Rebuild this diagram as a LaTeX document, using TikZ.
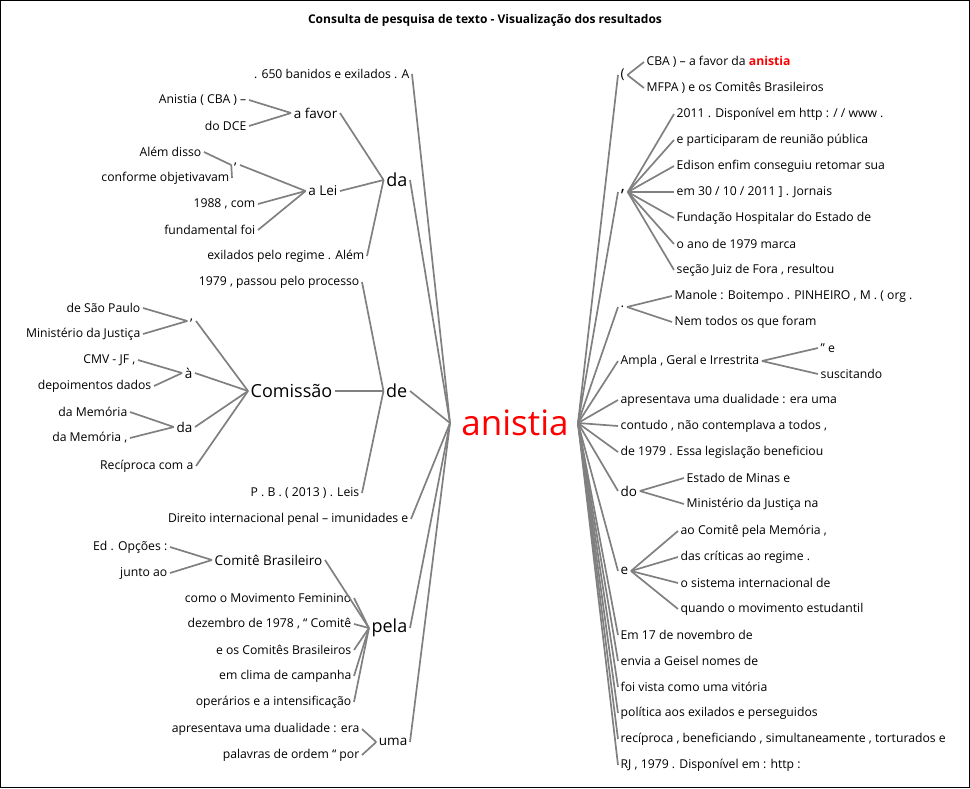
\documentclass[tikz,border=0pt]{standalone}
\usepackage{fontspec}
\usetikzlibrary{calc}
\setmainfont{Open Sans}
\begin{document}
\begin{tikzpicture}[x=1pt,y=-1pt,
 lf/.style={inner sep=2.5pt,font=\fontsize{12.2}{14}\selectfont},
 md/.style={inner sep=2.5pt,font=\fontsize{13.5}{15}\selectfont},
 bg/.style={inner sep=2.5pt,font=\fontsize{18}{20}\selectfont},
 conn/.style={draw=black!50,line width=1.7pt},
 hc/.style={to path={.. controls ($(\tikztostart)!0.5!(\tikztotarget)$ |- \tikztostart) and ($(\tikztostart)!0.5!(\tikztotarget)$ |- \tikztotarget) .. (\tikztotarget)}}]
\useasboundingbox (0,0) rectangle (970,788);
\draw[black,line width=1pt] (0.5,0.5) rectangle (969.5,787.5);
\node[font=\bfseries\fontsize{12}{14}\selectfont] (title) at (485,20) {Consulta de pesquisa de texto - Visualização dos resultados};
\node[text=red,inner sep=0pt,font=\fontsize{35}{38}\selectfont] (root) at (515,423) {anistia};
\coordinate (rl) at (450,423);
\coordinate (rr) at (578,423);
% ---------- LEFT ----------
\newcommand\Lnode[5][lf]{\node[#1,anchor=east] (#2) at (#3,#4) {#5};}
\Lnode{l650}{412}{74}{. 650 banidos e exilados . A}
\Lnode[bg]{da}{410}{180}{da}
\Lnode[md]{afavor}{340}{113}{a favor}
\Lnode{anicba}{249}{100}{Anistia ( CBA ) –}
\Lnode{dce}{249}{126}{do DCE}
\Lnode[md]{alei}{340}{191}{a Lei}
\Lnode[md]{vg1}{240}{165}{,}
\Lnode{alem}{204}{152}{Além disso}
\Lnode{confo}{232}{178}{conforme objetivavam}
\Lnode{m1988}{258}{204}{1988 , com}
\Lnode{fund}{258}{230}{fundamental foi}
\Lnode{exil}{367}{256}{exilados pelo regime . Além}
\Lnode[bg]{de}{410}{391}{de}
\Lnode{passou}{362}{282}{1979 , passou pelo processo}
\Lnode{pb}{362}{493}{P . B . ( 2013 ) . Leis}
\Lnode[bg]{comis}{335}{391}{Comissão}
\Lnode[md]{vg2}{196}{321}{,}
\Lnode{saop}{143}{308}{de São Paulo}
\Lnode{minj}{143}{334}{Ministério da Justiça}
\Lnode[md]{aa}{195}{373}{à}
\Lnode{cmv}{138}{360}{CMV - JF ,}
\Lnode{depo}{154}{386}{depoimentos dados}
\Lnode[md]{da2}{195}{427}{da}
\Lnode{mem1}{130}{412}{da Memória}
\Lnode{mem2}{130}{438}{da Memória ,}
\Lnode{recip}{196}{466}{Recíproca com a}
\Lnode{direito}{411}{519}{Direito internacional penal – imunidades e}
\Lnode[bg]{pela}{410}{628}{pela}
\Lnode[md]{cb}{325}{560}{Comitê Brasileiro}
\Lnode{ed}{170}{547}{Ed . Opções :}
\Lnode{junto}{170}{573}{junto ao}
\Lnode{p1}{354}{598}{como o Movimento Feminino}
\Lnode{p2}{354}{624}{dezembro de 1978 , “ Comitê}
\Lnode{p3}{354}{650}{e os Comitês Brasileiros}
\Lnode{p4}{354}{676}{em clima de campanha}
\Lnode{p5}{354}{702}{operários e a intensificação}
\Lnode[md]{uma}{410}{742}{uma}
\Lnode{u1}{362}{729}{apresentava uma dualidade : era}
\Lnode{u2}{362}{755}{palavras de ordem “ por}
\foreach \c in {l650,da,de,direito,pela,uma}{\draw[conn] (\c.east) to[hc] (rl);}
\foreach \c/\p in {afavor/da,alei/da,exil/da,anicba/afavor,dce/afavor,vg1/alei,m1988/alei,fund/alei,alem/vg1,confo/vg1,
 passou/de,comis/de,pb/de,vg2/comis,aa/comis,da2/comis,recip/comis,saop/vg2,minj/vg2,cmv/aa,depo/aa,mem1/da2,mem2/da2,
 cb/pela,p1/pela,p2/pela,p3/pela,p4/pela,p5/pela,ed/cb,junto/cb,u1/uma,u2/uma}
 {\draw[conn] (\c.east) to[hc] (\p.west);}
% ---------- RIGHT ----------
\newcommand\Rnode[5][lf]{\node[#1,anchor=west] (#2) at (#3,#4) {#5};}
\Rnode[md]{par}{618}{75}{(}
\Rnode{r1}{644}{62}{CBA ) – a favor da \textcolor{red}{\bfseries anistia}}
\Rnode{r2}{644}{88}{MFPA ) e os Comitês Brasileiros}
\Rnode[bg]{vg3}{618}{192}{,}
\Rnode{c1}{674}{114}{2011 . Disponível em http : / / www .}
\Rnode{c2}{674}{140}{e participaram de reunião pública}
\Rnode{c3}{674}{166}{Edison enfim conseguiu retomar sua}
\Rnode{c4}{674}{192}{em 30 / 10 / 2011 ] . Jornais}
\Rnode{c5}{674}{218}{Fundação Hospitalar do Estado de}
\Rnode{c6}{674}{244}{o ano de 1979 marca}
\Rnode{c7}{674}{270}{seção Juiz de Fora , resultou}
\Rnode[md]{pt}{618}{307}{.}
\Rnode{d1}{672}{296}{Manole : Boitempo . PINHEIRO , M . ( org .}
\Rnode{d2}{672}{322}{Nem todos os que foram}
\Rnode{ampla}{618}{361}{Ampla , Geral e Irrestrita}
\Rnode{a1}{818}{348}{” e}
\Rnode{a2}{818}{374}{suscitando}
\Rnode{s1}{618}{400}{apresentava uma dualidade : era uma}
\Rnode{s2}{618}{426}{contudo , não contemplava a todos ,}
\Rnode{s3}{618}{452}{de 1979 . Essa legislação beneficiou}
\Rnode[md]{do}{618}{491}{do}
\Rnode{o1}{684}{478}{Estado de Minas e}
\Rnode{o2}{684}{504}{Ministério da Justiça na}
\Rnode[md]{ee}{618}{571}{e}
\Rnode{e1}{678}{531}{ao Comitê pela Memória ,}
\Rnode{e2}{678}{557}{das críticas ao regime .}
\Rnode{e3}{678}{583}{o sistema internacional de}
\Rnode{e4}{678}{609}{quando o movimento estudantil}
\Rnode{t1}{618}{635}{Em 17 de novembro de}
\Rnode{t2}{618}{661}{envia a Geisel nomes de}
\Rnode{t3}{618}{687}{foi vista como uma vitória}
\Rnode{t4}{618}{713}{política aos exilados e perseguidos}
\Rnode{t5}{618}{739}{recíproca , beneficiando , simultaneamente , torturados e}
\Rnode{t6}{618}{765}{RJ , 1979 . Disponível em : http :}
\foreach \c in {par,vg3,pt,ampla,s1,s2,s3,do,ee,t1,t2,t3,t4,t5,t6}{\draw[conn] (rr) to[hc] (\c.west);}
\foreach \c/\p in {r1/par,r2/par,c1/vg3,c2/vg3,c3/vg3,c4/vg3,c5/vg3,c6/vg3,c7/vg3,d1/pt,d2/pt,a1/ampla,a2/ampla,o1/do,o2/do,e1/ee,e2/ee,e3/ee,e4/ee}
 {\draw[conn] (\p.east) to[hc] (\c.west);}
\end{tikzpicture}
\end{document}
